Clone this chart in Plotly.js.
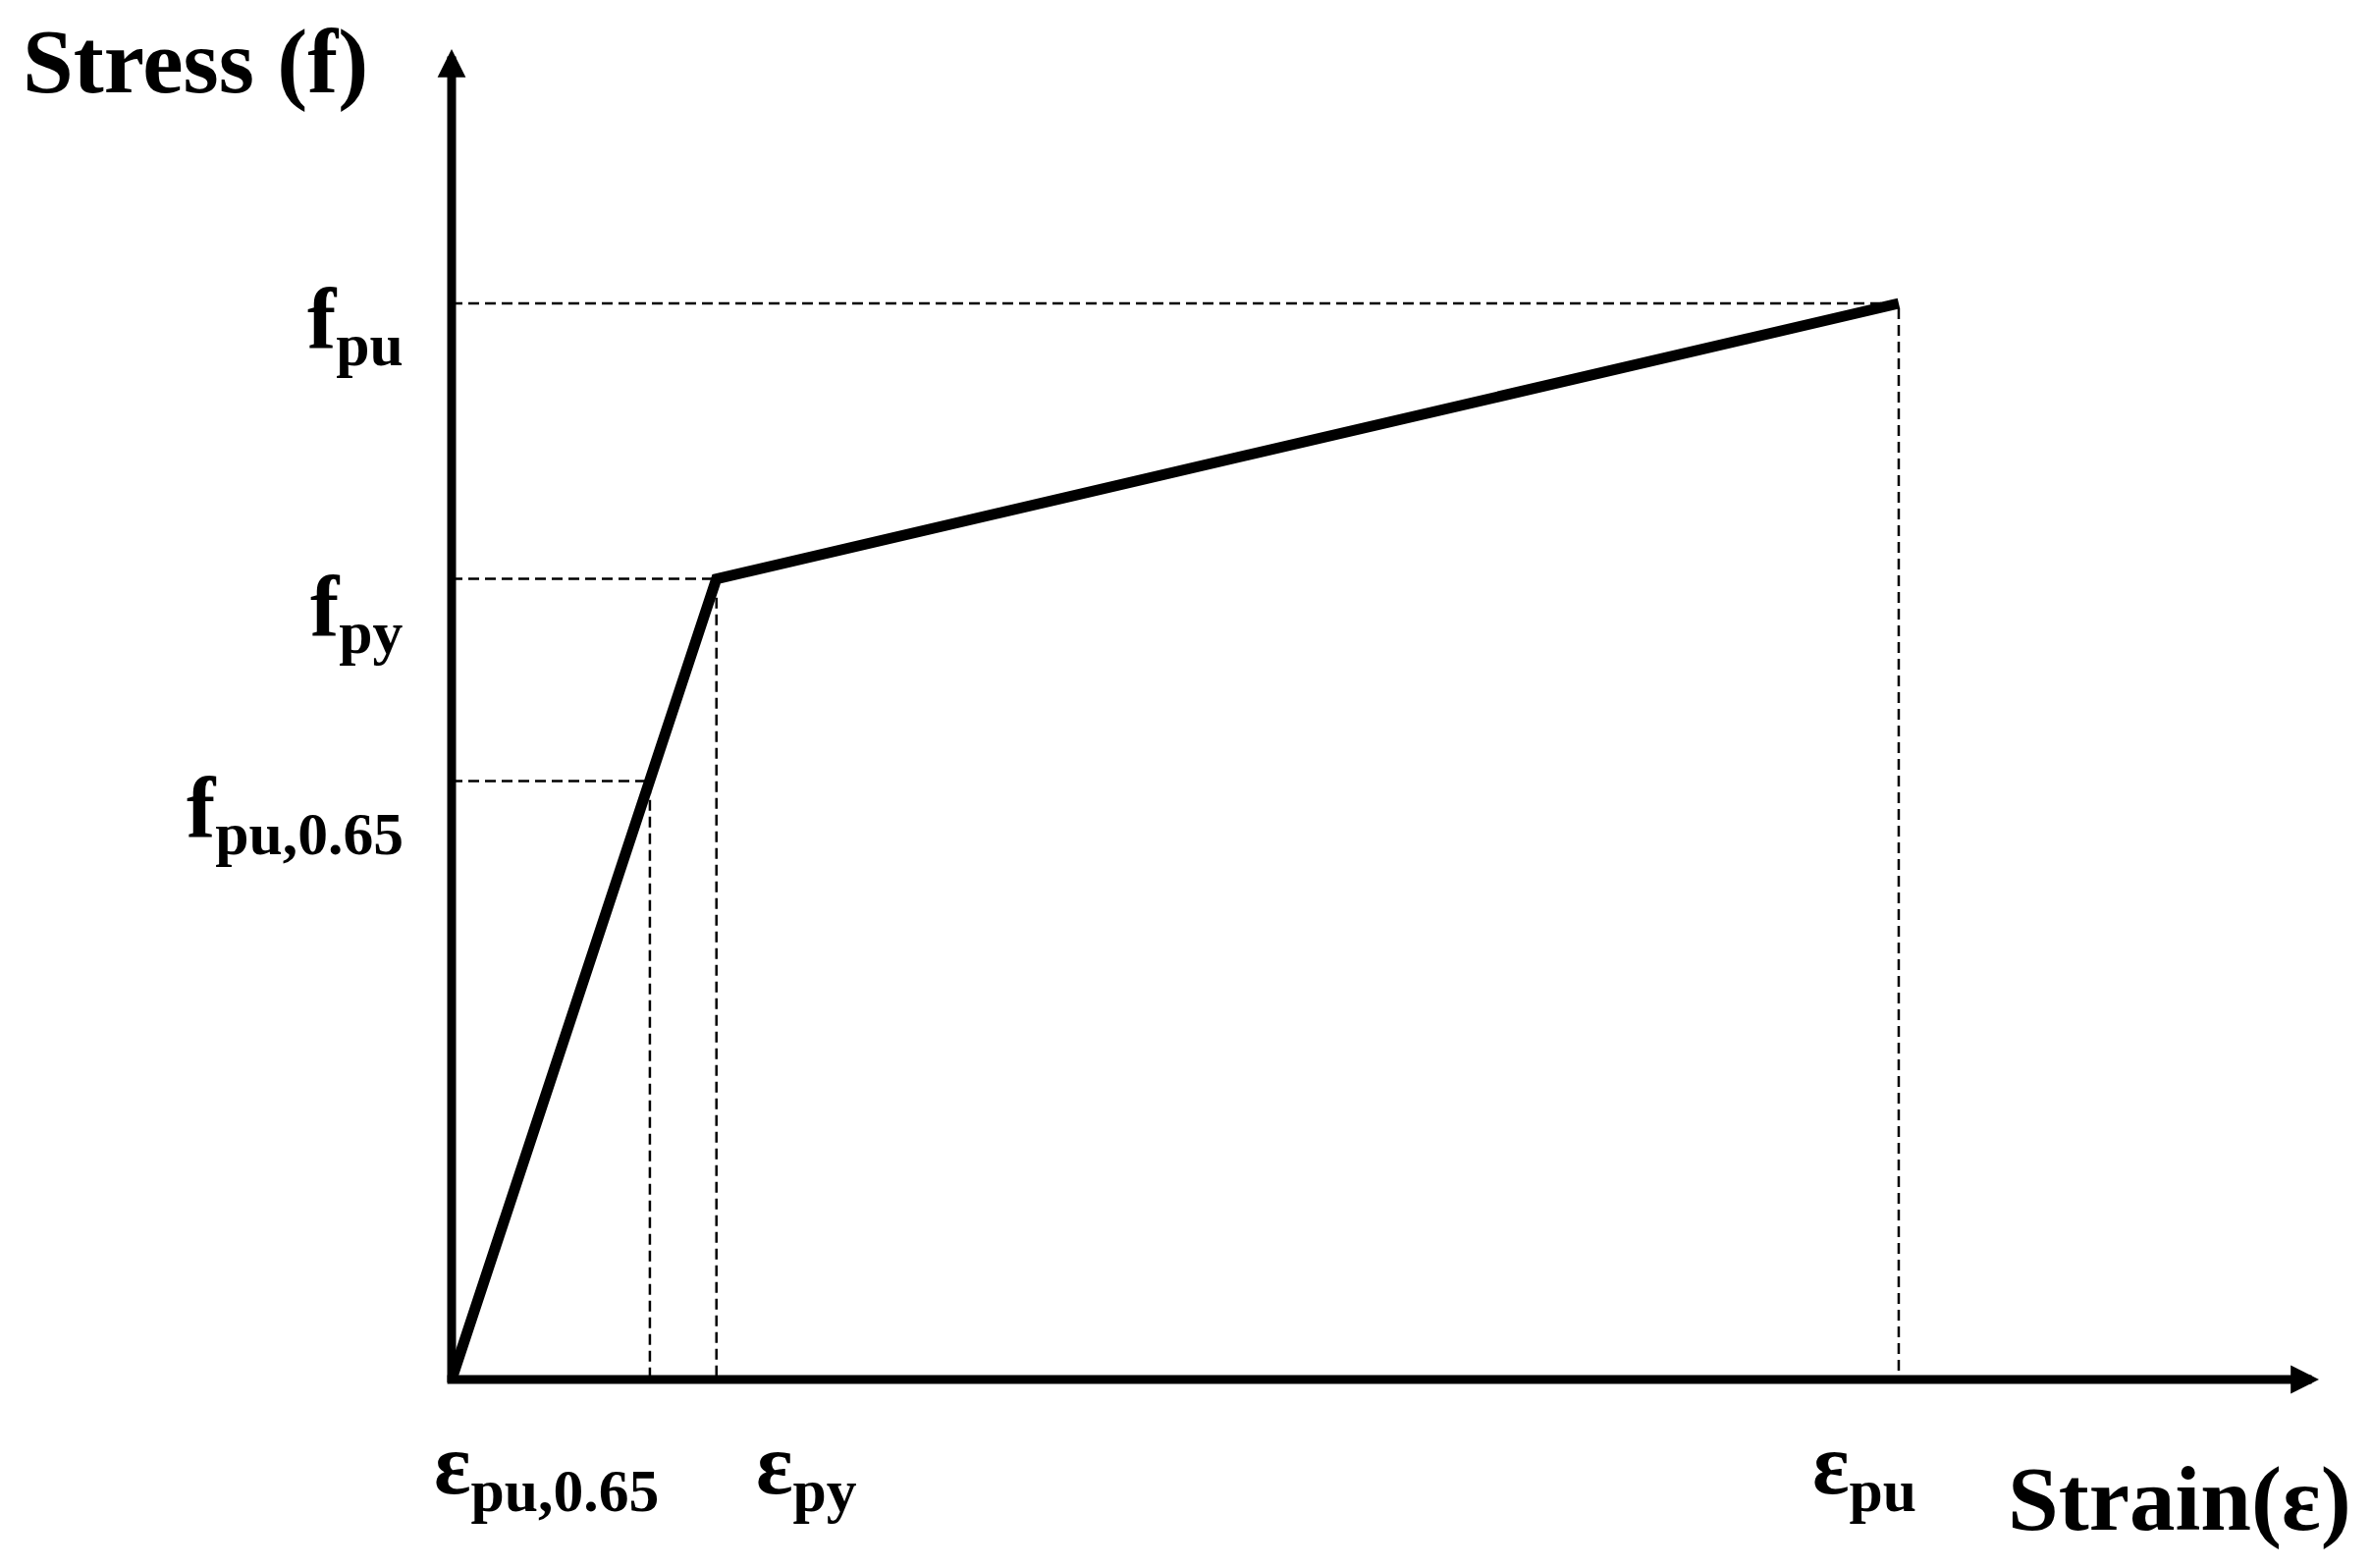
<!DOCTYPE html>
<html>
<head>
<meta charset="utf-8">
<script src="https://cdn.plot.ly/plotly-3.0.1.min.js"></script>
<style>
  html, body { margin: 0; padding: 0; background: #fff; }
  #plot { width: 2415px; height: 1597px; }
</style>
</head>
<body>
<div id="plot"></div>
<script>
// Idealised bilinear stress-strain curve (normalised: eps_pu = 1, f_pu = 1)
const curveStrain = [0, 0.183, 1.0];
const curveStress = [0, 0.744, 1.0];

// reference levels marked with dashed guide lines
const strainMarks = [0.137, 0.183, 1.0];
const stressMarks = [0.556, 0.744, 1.0];
const strainLabels = ["ε<sub>pu,0.65</sub>", "ε<sub>py</sub>", "ε<sub>pu</sub>"];
const stressLabels = ["f<sub>pu,0.65</sub>", "f<sub>py</sub>", "f<sub>pu</sub>"];

const xTitle = "Strain(ε)";
const yTitle = "Stress (f)";

// label nudges in px (label placement is not centred on the guides)
const strainLabelShift = [-105, 92, -35];
const stressLabelShift = [-33, -34, -22];

const xMax = 1.2904;
const yMax = 1.2363;

const font = { family: "Liberation Serif, Times New Roman, serif", color: "#000", weight: "bold" };

const traces = [];

// dashed guides: horizontal from stress axis, vertical down to strain axis
for (let i = 0; i < strainMarks.length; i++) {
  traces.push({
    x: [0, strainMarks[i], strainMarks[i]],
    y: [stressMarks[i], stressMarks[i], 0],
    type: "scatter",
    mode: "lines",
    line: { color: "#000", width: 2.5, dash: "11px,6px" },
    hoverinfo: "skip",
    showlegend: false,
  });
}

traces.push({
  x: curveStrain,
  y: curveStress,
  type: "scatter",
  mode: "lines",
  line: { color: "#000", width: 11 },
  showlegend: false,
});

const annotations = [];

// axes drawn as arrows
const arrowStyle = { text: "", showarrow: true, arrowhead: 2, arrowsize: 0.64, arrowwidth: 9, arrowcolor: "#000" };
annotations.push({
  x: xMax, y: 0, ax: -0.004, ay: 0,
  xref: "x", yref: "y", axref: "x", ayref: "y",
  ...arrowStyle,
});
annotations.push({
  x: 0, y: yMax, ax: 0, ay: -0.004,
  xref: "x", yref: "y", axref: "x", ayref: "y",
  ...arrowStyle,
});

strainLabels.forEach((t, i) => {
  annotations.push({
    x: strainMarks[i], y: 0, xref: "x", yref: "y",
    text: t, showarrow: false,
    xanchor: "center", yanchor: "middle",
    xshift: strainLabelShift[i], yshift: -92,
    font: { ...font, size: 88 },
  });
});

stressLabels.forEach((t, i) => {
  annotations.push({
    x: 0, y: stressMarks[i], xref: "x", yref: "y",
    text: t, showarrow: false,
    xanchor: "right", yanchor: "middle",
    xshift: -47, yshift: stressLabelShift[i],
    font: { ...font, size: 88 },
  });
});

annotations.push({
  x: 0, y: yMax, xref: "x", yref: "y",
  text: yTitle, showarrow: false,
  xanchor: "right", yanchor: "middle",
  xshift: -83, yshift: -12,
  font: { ...font, size: 93 },
});
annotations.push({
  x: xMax, y: 0, xref: "x", yref: "y",
  text: xTitle, showarrow: false,
  xanchor: "right", yanchor: "middle",
  xshift: 35, yshift: -121,
  font: { ...font, size: 93 },
});

const hidden = { showgrid: false, zeroline: false, showline: false, showticklabels: false, ticks: "" };

const layout = {
  width: 2415,
  height: 1597,
  margin: { l: 460, r: 53, t: 50, b: 192 },
  paper_bgcolor: "#fff",
  plot_bgcolor: "#fff",
  xaxis: { ...hidden, range: [0, xMax] },
  yaxis: { ...hidden, range: [0, yMax] },
  annotations: annotations,
  showlegend: false,
};

Plotly.newPlot("plot", traces, layout, { displayModeBar: false, staticPlot: true });
</script>
</body>
</html>
